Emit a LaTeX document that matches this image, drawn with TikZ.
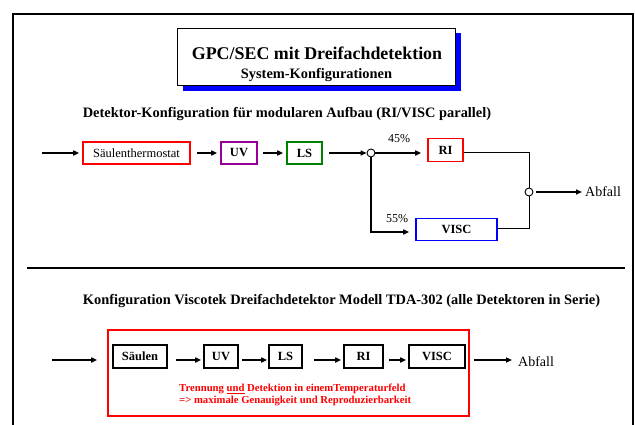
\documentclass[tikz,border=0pt]{standalone}
\usepackage{fontspec}
\setmainfont{Liberation Serif}
\usetikzlibrary{arrows.meta}
\definecolor{mypurple}{RGB}{153,0,153}
\definecolor{mygreen}{RGB}{0,128,0}
\definecolor{myblue}{RGB}{0,0,255}
\definecolor{myred}{RGB}{255,0,0}
\begin{document}
\begin{tikzpicture}[x=1pt,y=-1pt,
  arr/.style={line width=1.6pt,-{Triangle[length=6pt,width=5pt]}},
  thinline/.style={line width=1pt},
  box/.style={draw,line width=1.6pt,inner sep=0pt,minimum height=22pt,font=\fontsize{12.5}{14}\selectfont\bfseries},
  junc/.style={circle,draw,line width=0.9pt,fill=white,inner sep=0pt,minimum size=8pt},
  lbl/.style={inner sep=0pt,font=\fontsize{12}{14}\selectfont},
  abf/.style={inner sep=0pt,anchor=west,font=\fontsize{14}{16}\selectfont},
  heading/.style={inner sep=0pt,font=\fontsize{14.4}{16}\selectfont\bfseries}]
\useasboundingbox (0,0) rectangle (635,425);
% outer frame
\draw[line width=2pt] (13,425) -- (13,14) -- (633,14) -- (633,425);
% title
\fill[myblue] (183,33) rectangle (461,91);
\node[draw,line width=0.9pt,fill=white,minimum width=278pt,minimum height=57pt,inner sep=0pt] (title) at (316.5,56.5) {};
\node[inner sep=0pt,font=\fontsize{17.9}{20}\selectfont\bfseries] (t1) at (317,53) {GPC/SEC mit Dreifachdetektion};
\node[inner sep=0pt,font=\fontsize{14.4}{16}\selectfont\bfseries] (t2) at (316.5,75) {System-Konfigurationen};
% heading 1
\node[heading] (h1) at (287,114) {Detektor-Konfiguration für modularen Aufbau (RI/VISC parallel)};
% row 1
\coordinate (in1) at (42,153);
\node[box,draw=myred,minimum width=107pt,font=\fontsize{12.5}{14}\selectfont] (sth) at (136.5,153) {Säulenthermostat};
\node[box,draw=mypurple,minimum width=36pt] (uv1) at (239,153) {UV};
\node[box,draw=mygreen,minimum width=35pt] (ls1) at (304.5,153) {LS};
\node[junc] (split) at (371,153) {};
\node[box,draw=myred,minimum width=35pt,minimum height=23pt] (ri1) at (445.5,150) {RI};
\node[box,draw=myblue,minimum width=81pt] (visc1) at (456.5,229.5) {VISC};
\node[junc] (merge) at (529,192) {};
\node[abf] (ab1) at (585,192) {Abfall};
\node[lbl] (p45) at (399,139) {45\%};
\node[lbl] (p55) at (397,219) {55\%};
\draw[arr,shorten >=3pt] (in1) -- (sth.west);
\draw[arr,shorten <=6pt,shorten >=3pt] (sth.east) -- (uv1.west);
\draw[arr,shorten <=5pt,shorten >=3pt] (uv1.east) -- (ls1.west);
\draw[arr,shorten <=6pt] (ls1.east) -- (split.west);
\draw[arr,shorten >=6pt] (split.east) -- (split.east -| ri1.west);
\draw[arr,shorten >=6pt] (split.south) |- ([yshift=-2.5pt]visc1.west);
\draw[thinline] (ri1.east |- split) -| (merge.north);
\draw[thinline] ([yshift=1.5pt]visc1.east) -| (merge.south);
\draw[arr,shorten <=3pt,shorten >=3pt] (merge.east) -- (ab1.west);
% separator
\draw[line width=2pt] (27,268) -- (625,268);
% heading 2
\node[heading] (h2) at (341.5,301) {Konfiguration Viscotek Dreifachdetektor Modell TDA-302 (alle Detektoren in Serie)};
% row 2
\node[draw=myred,line width=2pt,minimum width=361pt,minimum height=86pt,inner sep=0pt] (frame2) at (288.5,373) {};
\coordinate (in2) at (52,360);
\node[box,minimum width=54pt,minimum height=23pt] (sa) at (140,356.5) {Säulen};
\node[box,minimum width=34pt,minimum height=23pt] (uv2) at (221,356.5) {UV};
\node[box,minimum width=33pt,minimum height=23pt] (ls2) at (285.5,356.5) {LS};
\node[box,minimum width=39pt,minimum height=23pt] (ri2) at (363.5,356.5) {RI};
\node[box,minimum width=56pt,minimum height=23pt] (visc2) at (437,356.5) {VISC};
\node[abf] (ab2) at (518,362) {Abfall};
\draw[arr,shorten >=15pt] (in2) -- (in2 -| sa.west);
\draw[arr,shorten <=8pt,shorten >=2pt] ([yshift=-3.5pt]sa.east) -- ([yshift=-3.5pt]uv2.west);
\draw[arr,shorten <=3pt,shorten >=1pt] ([yshift=-3.5pt]uv2.east) -- ([yshift=-3.5pt]ls2.west);
\draw[arr,shorten <=11pt,shorten >=2pt] ([yshift=-3.5pt]ls2.east) -- ([yshift=-3.5pt]ri2.west);
\draw[arr,shorten <=5pt,shorten >=2pt] ([yshift=-3.5pt]ri2.east) -- ([yshift=-3.5pt]visc2.west);
\draw[arr,shorten <=8pt,shorten >=6pt] ([yshift=-3.5pt]visc2.east) -- ([yshift=-3.5pt]visc2.east -| ab2.west);
\node[inner sep=0pt,anchor=west,align=left,text=myred,font=\fontsize{10.7}{12.5}\selectfont\bfseries] (note) at (179,395) {Trennung \underline{und} Detektion in einemTemperaturfeld\\=> maximale Genauigkeit und Reproduzierbarkeit};
\end{tikzpicture}
\end{document}
